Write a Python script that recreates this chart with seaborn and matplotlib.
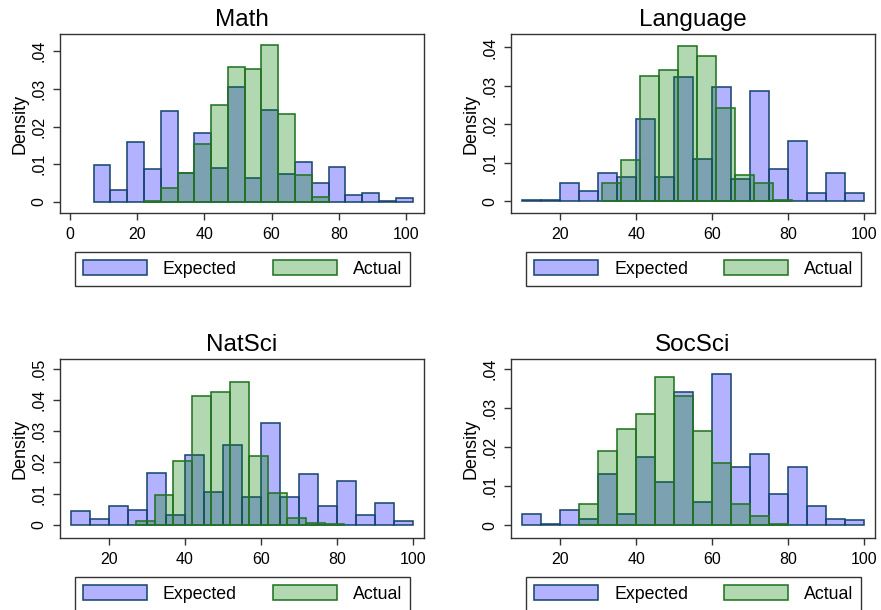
import numpy as np
import pandas as pd
import matplotlib
matplotlib.use("Agg")
import matplotlib.pyplot as plt
import seaborn as sns
from matplotlib.patches import Patch

sns.set_style("white")
plt.rcParams["font.family"] = ["Liberation Sans", "DejaVu Sans"]
plt.rcParams["text.color"] = "black"
plt.rcParams["axes.labelcolor"] = "black"
plt.rcParams["xtick.color"] = "black"
plt.rcParams["ytick.color"] = "black"

BIN_WIDTH = 5
subjects = ["Math", "Language", "NatSci", "SocSci"]

# densities, bins of width 5 starting at *_start
math_exp_start = 7
math_exp = [0.0097, 0.0032, 0.0158, 0.0086, 0.0241, 0.0076, 0.0184, 0.0090, 0.0306, 0.0064,
            0.0244, 0.0075, 0.0105, 0.0049, 0.0091, 0.0018, 0.0023, 0.0003, 0.0009]
math_act_start = 22
math_act = [0.0003, 0.0037, 0.0076, 0.0153, 0.0258, 0.0358, 0.0353, 0.0416, 0.0233, 0.0070, 0.0013]

lang_exp_start = 10
lang_exp = [0.0005, 0.0005, 0.0049, 0.0027, 0.0075, 0.0064, 0.0214, 0.0064, 0.0323, 0.0111,
            0.0297, 0.0059, 0.0287, 0.0085, 0.0157, 0.0023, 0.0075, 0.0023]
lang_act_start = 31
lang_act = [0.0049, 0.0107, 0.0325, 0.0342, 0.0405, 0.0378, 0.0243, 0.0070, 0.0049, 0.0003]

nat_exp_start = 10
nat_exp = [0.0043, 0.0020, 0.0059, 0.0048, 0.0167, 0.0032, 0.0224, 0.0104, 0.0255, 0.0090,
           0.0327, 0.0090, 0.0162, 0.0059, 0.0142, 0.0032, 0.0069, 0.0013]
nat_act_start = 27
nat_act = [0.0012, 0.0097, 0.0206, 0.0414, 0.0424, 0.0457, 0.0221, 0.0101, 0.0021, 0.0006, 0.0002]

soc_exp_start = 10
soc_exp = [0.0029, 0.0002, 0.0038, 0.0016, 0.0132, 0.0028, 0.0174, 0.0110, 0.0340, 0.0059,
           0.0387, 0.0148, 0.0183, 0.0080, 0.0148, 0.0048, 0.0016, 0.0012]
soc_act_start = 25
soc_act = [0.0055, 0.0190, 0.0247, 0.0284, 0.0378, 0.0331, 0.0242, 0.0159, 0.0055, 0.0023, 0.0003]

x_ticks = {
    "Math": [0, 20, 40, 60, 80, 100],
    "Language": [20, 40, 60, 80, 100],
    "NatSci": [20, 40, 60, 80, 100],
    "SocSci": [20, 40, 60, 80, 100],
}
y_ticks = {
    "Math": [0, 0.01, 0.02, 0.03, 0.04],
    "Language": [0, 0.01, 0.02, 0.03, 0.04],
    "NatSci": [0, 0.01, 0.02, 0.03, 0.04, 0.05],
    "SocSci": [0, 0.01, 0.02, 0.03, 0.04],
}

data = {
    "Math": (math_exp_start, math_exp, math_act_start, math_act),
    "Language": (lang_exp_start, lang_exp, lang_act_start, lang_act),
    "NatSci": (nat_exp_start, nat_exp, nat_act_start, nat_act),
    "SocSci": (soc_exp_start, soc_exp, soc_act_start, soc_act),
}

# layout (pixels in a 881x610 figure): left, top, right, bottom of the plot box
W, H = 881, 610
boxes = {
    "Math": (60, 34, 424, 213),
    "Language": (511, 34, 875, 213),
    "NatSci": (60, 359, 424, 538),
    "SocSci": (511, 359, 875, 538),
}
limits = {
    "Math": ((-3, 105.4), (-0.0030, 0.0446)),
    "Language": ((7.0, 102.9), (-0.0030, 0.0435)),
    "NatSci": ((7.1, 103.0), (-0.0042, 0.0531)),
    "SocSci": ((7.0, 102.9), (-0.0033, 0.0425)),
}

EXP_FILL = (0, 0, 1, 0.3)
EXP_EDGE = "#1a476f"
ACT_FILL = (0, 0.5, 0, 0.3)
ACT_EDGE = "#237323"
FRAME = "#333333"
EDGE_LW = 1.15


def draw_hist(ax, start, heights, face, edge):
    edges = [start + BIN_WIDTH * i for i in range(len(heights) + 1)]
    df = pd.DataFrame({"score": [e + BIN_WIDTH / 2 for e in edges[:-1]], "density": heights})
    sns.histplot(data=df, x="score", weights="density", bins=edges, stat="count", ax=ax,
                 facecolor=face, edgecolor=edge, linewidth=EDGE_LW)


def fmt(v):
    return "0" if v == 0 else ("%.2f" % v)[1:]


fig = plt.figure(figsize=(W / 100, H / 100), dpi=100)
fig.patch.set_facecolor("white")

for name in subjects:
    l, t, r, b = boxes[name]
    ax = fig.add_axes([l / W, (H - b) / H, (r - l) / W, (b - t) / H])
    es, ev, a_s, av = data[name]
    draw_hist(ax, es, ev, EXP_FILL, EXP_EDGE)
    draw_hist(ax, a_s, av, ACT_FILL, ACT_EDGE)

    ax.set_xlim(*limits[name][0])
    ax.set_ylim(*limits[name][1])
    ax.set_xticks(x_ticks[name])
    ax.set_xticklabels([str(v) for v in x_ticks[name]], fontsize=11.5)
    ax.set_yticks(y_ticks[name])
    ax.set_yticklabels([fmt(v) for v in y_ticks[name]], fontsize=11.5,
                       rotation=90, va="center")
    ax.tick_params(axis="both", direction="out", length=5, width=1,
                   color=FRAME, pad=5, bottom=True, left=True)
    for sp in ax.spines.values():
        sp.set_visible(True)
        sp.set_color(FRAME)
        sp.set_linewidth(1.0)
    ax.set_xlabel("")
    ax.set_ylabel("Density", fontsize=13, labelpad=2)
    ax.set_title(name, fontsize=17.5, pad=6)

    handles = [Patch(facecolor=EXP_FILL, edgecolor=EXP_EDGE, linewidth=EDGE_LW, label="Expected"),
               Patch(facecolor=ACT_FILL, edgecolor=ACT_EDGE, linewidth=EDGE_LW, label="Actual")]
    bw = b - t
    aw = r - l
    # legend box: 15 px in from the left, 40-72 px under the plot box
    leg = ax.legend(handles=handles, ncol=2, loc="center", mode="expand",
                    bbox_to_anchor=(15 / aw, -72 / bw, 335 / aw, 32 / bw), fontsize=12.8,
                    handlelength=3.6, handleheight=0.85, handletextpad=0.9,
                    borderpad=0.45, borderaxespad=0, fancybox=False, framealpha=1)
    leg.get_frame().set_edgecolor(FRAME)
    leg.get_frame().set_linewidth(1.0)

fig.savefig("out.png", dpi=100, facecolor="white")
